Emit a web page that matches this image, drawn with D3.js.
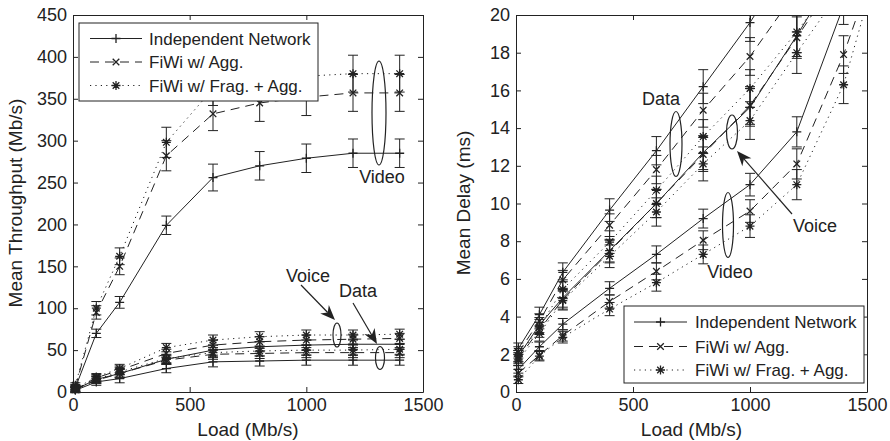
<!DOCTYPE html>
<html>
<head>
<meta charset="utf-8">
<script src="https://cdnjs.cloudflare.com/ajax/libs/d3/7.8.5/d3.min.js"></script>
<style>
    body { margin: 0; background: #fff; }
    svg { display: block; font-family: "Liberation Sans", Arial, sans-serif; }
    .axis text { font-size: 18px; fill: #222; }
    .axis path, .axis line { stroke: #222; stroke-width: 1; }
</style>
</head>
<body>
<div id="chart"></div>
<script>
// loads (Mb/s)
var loadsL = [10, 100, 200, 400, 600, 800, 1000, 1200, 1400];
var loadsR = [10, 100, 200, 400, 600, 800, 1000, 1200, 1400, 1600];

// left panel: mean throughput (Mb/s)
var thrVideoInd = [5, 70, 107, 199, 256, 270, 279, 285, 285];
var thrVideoAgg = [6, 95, 150, 282, 332, 345, 352, 357, 357];
var thrVideoFrag = [8, 100, 162, 298, 362, 372, 377, 380, 380];
var thrVoiceInd = [3, 15, 22, 39, 50, 54, 56, 57, 57];
var thrVoiceAgg = [3, 17, 26, 46, 56, 60, 62, 63, 64];
var thrVoiceFrag = [4, 18, 28, 53, 62, 66, 68, 68, 69];
var thrDataInd = [2, 12, 16, 28, 36, 37, 38, 38, 38];
var thrDataAgg = [3, 14, 22, 38, 45, 46, 47, 47, 47];
var thrDataFrag = [3, 15, 24, 40, 47, 49, 50, 50, 51];

var errVideoInd = [3, 5, 7, 11, 16, 17, 17, 17, 17];
var errVideoFi = [3, 8, 10, 18, 20, 22, 22, 22, 22];
var errLow = [3, 4, 5, 5, 6, 6, 6, 6, 6];

// right panel: mean delay (ms)
var dlyDataInd = [2.3, 4.1, 6.35, 9.65, 12.8, 16.2, 19.6, 23.5, 27.5, 31.5];
var dlyDataAgg = [2.1, 3.75, 5.95, 8.85, 11.8, 14.95, 17.8, 21.3, 25, 29];
var dlyDataFrag = [1.9, 3.45, 5.45, 7.95, 10.7, 13.55, 16.1, 19.1, 22.5, 26];
var dlyVoiceInd = [1.9, 3.55, 5.0, 7.5, 10.0, 12.7, 15.1, 18.9, 23, 27];
var dlyVoiceAgg = [1.8, 3.3, 4.9, 7.45, 10.0, 12.6, 15.2, 18.8, 22.5, 26];
var dlyVoiceFrag = [1.7, 3.1, 4.85, 7.2, 9.55, 12.1, 14.4, 18.0, 21.5, 25];
var dlyVideoInd = [1.2, 2.4, 3.6, 5.5, 7.3, 9.2, 11.0, 13.8, 20.5, 27];
var dlyVideoAgg = [1.0, 1.95, 3.0, 4.8, 6.4, 8.05, 9.6, 12.1, 17.9, 25];
var dlyVideoFrag = [0.65, 1.9, 2.9, 4.4, 5.8, 7.3, 8.8, 11.0, 16.3, 25];

var errDly = [0.3, 0.4, 0.5, 0.6, 0.75, 0.9, 1.0, 1.1, 1.2, 1.3];
var errDlyVideo = [0.2, 0.25, 0.3, 0.35, 0.45, 0.5, 0.6, 0.8, 1.0, 1.0];

var yTicksL = [0, 50, 100, 150, 200, 250, 300, 350, 400, 450];
var yTicksR = [0, 2, 4, 6, 8, 10, 12, 14, 16, 18, 20];
var xTicks = [0, 500, 1000, 1500];
var legendNames = ["Independent Network", "FiWi w/ Agg.", "FiWi w/ Frag. + Agg."];

function init() {
    var w = 890;
    var h = 441;
    var ink = "#222";

    var styles = {
        ind: { dash: null, marker: "plus" },
        agg: { dash: "9,6", marker: "cross" },
        frag: { dash: "1.2,4.2", marker: "star" }
    };

    var svg = d3.select("#chart")
        .append("svg")
        .attr("width", w)
        .attr("height", h)
        .attr("font-family", "Liberation Sans, Arial, sans-serif");

    function markerPath(type, x, y) {
        var s = 4.5, c = 3.3;
        var p = "M" + (x - s) + "," + y + "H" + (x + s) + "M" + x + "," + (y - s) + "V" + (y + s);
        var q = "M" + (x - c) + "," + (y - c) + "L" + (x + c) + "," + (y + c) +
            "M" + (x - c) + "," + (y + c) + "L" + (x + c) + "," + (y - c);
        if (type == "plus") return p;
        if (type == "cross") return q;
        return p + q;
    }

    function panel(cfg) {
        var xScale = d3.scaleLinear().domain([0, 1500]).range(cfg.xr);
        var yScale = d3.scaleLinear().domain(cfg.yd).range([392, 15]);
        var fmt = d3.format("d");
        var g = svg.append("g");

        svg.append("clipPath")
            .attr("id", cfg.id)
            .append("rect")
            .attr("x", cfg.xr[0] - 12)
            .attr("y", 15)
            .attr("width", cfg.xr[1] - cfg.xr[0] + 12)
            .attr("height", 392 - 15 + 12);

        // axes (ticks inward, box all round)
        g.append("g").attr("class", "axis")
            .attr("transform", "translate(0,392)")
            .call(d3.axisBottom(xScale).tickValues(xTicks).tickFormat(fmt).tickSizeInner(-5).tickSizeOuter(0).tickPadding(6));
        g.append("g").attr("class", "axis")
            .attr("transform", "translate(" + cfg.xr[0] + ",0)")
            .call(d3.axisLeft(yScale).tickValues(cfg.yt).tickFormat(fmt).tickSizeInner(-5).tickSizeOuter(0).tickPadding(6));
        g.append("g").attr("class", "axis")
            .attr("transform", "translate(0,15)")
            .call(d3.axisTop(xScale).tickValues(xTicks).tickSizeInner(-5).tickSizeOuter(0).tickFormat(""));
        g.append("g").attr("class", "axis")
            .attr("transform", "translate(" + cfg.xr[1] + ",0)")
            .call(d3.axisRight(yScale).tickValues(cfg.yt).tickSizeInner(-5).tickSizeOuter(0).tickFormat(""));
        g.selectAll(".axis").attr("font-family", null);

        // axis labels
        g.append("text")
            .attr("x", (cfg.xr[0] + cfg.xr[1]) / 2)
            .attr("y", 436)
            .attr("text-anchor", "middle")
            .attr("font-size", 19)
            .attr("fill", ink)
            .text("Load (Mb/s)");
        g.append("text")
            .attr("transform", "translate(" + cfg.ylx + ",203) rotate(-90)")
            .attr("text-anchor", "middle")
            .attr("font-size", 19)
            .attr("fill", ink)
            .text(cfg.ylabel);

        var plot = g.append("g").attr("clip-path", "url(#" + cfg.id + ")");

        var line = d3.line()
            .x(function (d) { return xScale(d.x); })
            .y(function (d) { return yScale(d.y); });

        cfg.series.forEach(function (s) {
            var st = styles[s.type];
            var pts = cfg.loads.map(function (x, i) {
                return { x: x, y: s.vals[i], e: s.err[i] };
            });
            plot.append("path")
                .datum(pts)
                .attr("d", line)
                .attr("fill", "none")
                .attr("stroke", ink)
                .attr("stroke-width", 1)
                .attr("stroke-dasharray", st.dash);

            // error bars
            plot.selectAll(null)
                .data(pts)
                .enter()
                .append("path")
                .attr("d", function (d) {
                    var x = xScale(d.x), y0 = yScale(d.y - d.e), y1 = yScale(d.y + d.e);
                    return "M" + x + "," + y0 + "V" + y1 +
                        "M" + (x - 5) + "," + y0 + "H" + (x + 5) +
                        "M" + (x - 5) + "," + y1 + "H" + (x + 5);
                })
                .attr("fill", "none")
                .attr("stroke", ink)
                .attr("stroke-width", 1);

            plot.selectAll(null)
                .data(pts)
                .enter()
                .append("path")
                .attr("d", function (d) { return markerPath(st.marker, xScale(d.x), yScale(d.y)); })
                .attr("fill", "none")
                .attr("stroke", ink)
                .attr("stroke-width", 1.3);
        });

        // legend
        var L = cfg.legend;
        g.append("rect")
            .attr("x", L.x0).attr("y", L.y0)
            .attr("width", L.x1 - L.x0).attr("height", L.y1 - L.y0)
            .attr("fill", "#fff")
            .attr("stroke", ink);
        ["ind", "agg", "frag"].forEach(function (t, i) {
            var yy = L.rows[i];
            g.append("line")
                .attr("x1", L.lx0).attr("x2", L.lx1)
                .attr("y1", yy).attr("y2", yy)
                .attr("stroke", ink)
                .attr("stroke-dasharray", styles[t].dash);
            g.append("path")
                .attr("d", markerPath(styles[t].marker, (L.lx0 + L.lx1) / 2, yy))
                .attr("fill", "none")
                .attr("stroke", ink)
                .attr("stroke-width", 1.3);
            g.append("text")
                .attr("x", L.tx).attr("y", yy)
                .attr("dy", "0.36em")
                .attr("font-size", 17)
                .attr("fill", ink)
                .text(legendNames[i]);
        });

        return g;
    }

    function ellipse(g, cx, cy, rx, ry) {
        g.append("ellipse")
            .attr("cx", cx).attr("cy", cy)
            .attr("rx", rx).attr("ry", ry)
            .attr("fill", "none")
            .attr("stroke", ink)
            .attr("stroke-width", 1.2);
    }

    function arrow(g, x0, y0, x1, y1) {
        var a = Math.atan2(y1 - y0, x1 - x0);
        var len = 15, wid = 6;
        var bx = x1 - len * Math.cos(a), by = y1 - len * Math.sin(a);
        var mx = x1 - len * 0.7 * Math.cos(a), my = y1 - len * 0.7 * Math.sin(a);
        g.append("line")
            .attr("x1", x0).attr("y1", y0)
            .attr("x2", mx).attr("y2", my)
            .attr("stroke", ink)
            .attr("stroke-width", 1.2);
        g.append("path")
            .attr("d", "M" + x1 + "," + y1 +
                "L" + (bx - wid * Math.sin(a)) + "," + (by + wid * Math.cos(a)) +
                "L" + mx + "," + my +
                "L" + (bx + wid * Math.sin(a)) + "," + (by - wid * Math.cos(a)) + "Z")
            .attr("fill", ink);
    }

    function label(g, x, y, t) {
        g.append("text")
            .attr("x", x).attr("y", y)
            .attr("dy", "0.36em")
            .attr("text-anchor", "middle")
            .attr("font-size", 18)
            .attr("fill", ink)
            .text(t);
    }

    var left = panel({
        id: "clipL",
        xr: [73, 423],
        yd: [0, 450],
        yt: yTicksL,
        loads: loadsL,
        ylabel: "Mean Throughput (Mb/s)",
        ylx: 22,
        series: [
            { vals: thrVideoInd, err: errVideoInd, type: "ind" },
            { vals: thrVideoAgg, err: errVideoFi, type: "agg" },
            { vals: thrVideoFrag, err: errVideoFi, type: "frag" },
            { vals: thrVoiceInd, err: errLow, type: "ind" },
            { vals: thrVoiceAgg, err: errLow, type: "agg" },
            { vals: thrVoiceFrag, err: errLow, type: "frag" },
            { vals: thrDataInd, err: errLow, type: "ind" },
            { vals: thrDataAgg, err: errLow, type: "agg" },
            { vals: thrDataFrag, err: errLow, type: "frag" }
        ],
        legend: { x0: 79, y0: 23, x1: 318, y1: 101, rows: [38.5, 62, 85.5], lx0: 90, lx1: 142, tx: 149 }
    });

    ellipse(left, 379, 113, 7, 52);
    label(left, 382, 177, "Video");
    ellipse(left, 337, 335, 4, 12);
    ellipse(left, 380, 358, 4.5, 11.5);
    label(left, 308, 276, "Voice");
    label(left, 358, 291, "Data");
    arrow(left, 301, 285, 335, 320);
    arrow(left, 353, 303, 377, 344);

    var right = panel({
        id: "clipR",
        xr: [516, 867],
        yd: [0, 20],
        yt: yTicksR,
        loads: loadsR,
        ylabel: "Mean Delay (ms)",
        ylx: 470,
        series: [
            { vals: dlyDataInd, err: errDly, type: "ind" },
            { vals: dlyDataAgg, err: errDly, type: "agg" },
            { vals: dlyDataFrag, err: errDly, type: "frag" },
            { vals: dlyVoiceInd, err: errDly, type: "ind" },
            { vals: dlyVoiceAgg, err: errDly, type: "agg" },
            { vals: dlyVoiceFrag, err: errDly, type: "frag" },
            { vals: dlyVideoInd, err: errDlyVideo, type: "ind" },
            { vals: dlyVideoAgg, err: errDlyVideo, type: "agg" },
            { vals: dlyVideoFrag, err: errDlyVideo, type: "frag" }
        ],
        legend: { x0: 624, y0: 306, x1: 864, y1: 383, rows: [322, 346.5, 370], lx0: 634, lx1: 687, tx: 695 }
    });

    ellipse(right, 676, 144, 6, 32.5);
    label(right, 661, 99, "Data");
    ellipse(right, 732, 132, 5.5, 17);
    label(right, 815, 226, "Voice");
    arrow(right, 792, 214, 737, 151);
    ellipse(right, 728, 225, 5.5, 32.5);
    label(right, 730, 272, "Video");
}
window.onload = init;
</script>
</body>
</html>
